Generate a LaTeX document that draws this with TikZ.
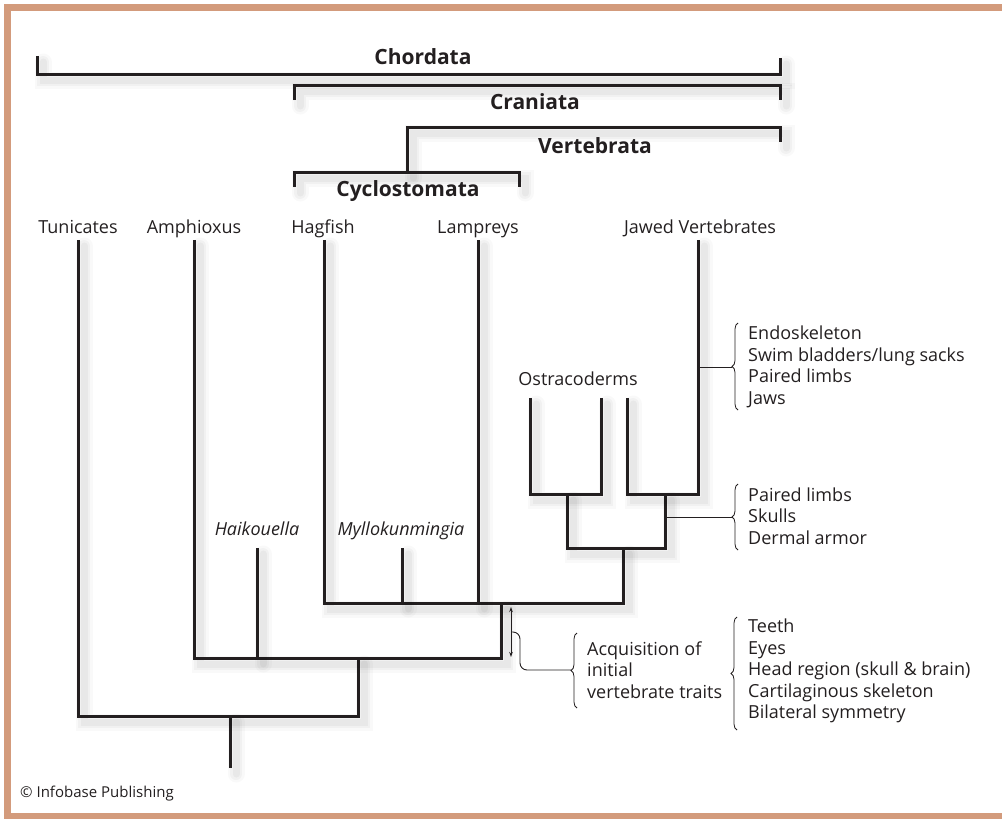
\documentclass[tikz,border=0pt]{standalone}
\usepackage{fontspec}
\setmainfont{Open Sans}
\usetikzlibrary{arrows.meta,positioning,decorations.pathreplacing}
\definecolor{framebrown}{RGB}{211,155,124}
\definecolor{inkline}{RGB}{35,31,32}

\begin{document}
\begin{tikzpicture}[x=1pt,y=-1pt]
	\tikzstyle{blurA}=[draw=black,opacity=0.025,line width=17pt,line cap=round,transform canvas={shift={(6pt,-6pt)}}]
	\tikzstyle{blurB}=[draw=black,opacity=0.03,line width=12pt,line cap=round,transform canvas={shift={(6pt,-6pt)}}]
	\tikzstyle{blurC}=[draw=black,opacity=0.04,line width=7pt,line cap=round,transform canvas={shift={(6pt,-6pt)}}]
	\tikzstyle{branch}=[draw=inkline,line width=3pt,preaction={blurA},preaction={blurB},preaction={blurC}]
	\tikzstyle{thinline}=[draw=inkline,line width=0.9pt]
	\tikzstyle{bracebar}=[draw=inkline,line width=0.8pt,decorate,decoration={brace,amplitude=6pt}]
	\tikzstyle{taxon}=[anchor=base,inner sep=0pt,text=inkline,font=\fontsize{18}{21.5}\selectfont]
	\tikzstyle{fossil}=[taxon,font=\fontsize{18}{21.5}\selectfont\itshape]
	\tikzstyle{group}=[anchor=base,inner sep=0pt,text=inkline,font=\fontsize{21}{25}\selectfont\bfseries]
	\tikzstyle{traits}=[anchor=west,align=left,inner sep=0pt,text=inkline,font=\fontsize{18}{21.5}\selectfont]

	\useasboundingbox (0,0) rectangle (1002,819);
	% frame
	\fill[framebrown] (4,4) rectangle (1002,11);
	\fill[framebrown] (4,4) rectangle (11,819);
	\fill[framebrown] (4,813) rectangle (1002,819);

	% tips
	\coordinate (tun) at (78,240);
	\coordinate (amph) at (194,240);
	\coordinate (hag) at (324,240);
	\coordinate (lamp) at (478,240);
	\coordinate (jaw) at (698,240);
	\coordinate (ost1) at (530,398);
	\coordinate (ost2) at (601,398);
	\coordinate (ost3) at (627,398);
	\coordinate (haik) at (257,548);
	\coordinate (myll) at (402,548);
	% inner nodes
	\coordinate (root) at (230,768);
	\coordinate (nA) at (230,716);
	\coordinate (nB) at (358,658);
	\coordinate (nC) at (501,603);
	\coordinate (nD) at (623,548);
	\coordinate (nE) at (567,494);
	\coordinate (nF) at (665,494);

	% tree
	\draw[branch] (nA) -- (root);
	\draw[branch] (tun) |- (nA) -| (nB);
	\draw[branch] (amph) |- (nB) -| (nC);
	\draw[branch] (haik) -- (haik |- nB);
	\draw[branch] (hag) |- (nC) -| (nD);
	\draw[branch] (myll) -- (myll |- nC);
	\draw[branch] (lamp) -- (lamp |- nC);
	\draw[branch] (nE) |- (nD) -| (nF);
	\draw[branch] (ost1) |- (nE) -| (ost2);
	\draw[branch] (ost3) |- (nF) -| (jaw);

	% clade brackets
	\coordinate (chL) at (37,56);
	\coordinate (chR) at (780,58);
	\coordinate (crL) at (294,100);
	\coordinate (crR) at (780,100);
	\coordinate (veR) at (780,142);
	\coordinate (veL) at (407,172);
	\coordinate (cyL) at (294,187);
	\coordinate (cyR) at (519,187);
	\draw[branch] (chL) |- ([yshift=-16pt]chR) -- (chR);
	\draw[branch] (crL) |- ([yshift=15pt]crR) -- (crR);
	\draw[branch] (veL) |- ([yshift=15pt]veR) -- (veR);
	\draw[branch] (cyL) |- ([yshift=15pt]cyR) -- (cyR);

	\node[group] (chordata) at (423,64) {Chordata};
	\node[group] (craniata) at (535,109) {Craniata};
	\node[group] (vertebrata) at (595,153) {Vertebrata};
	\node[group] (cyclo) at (408,196) {Cyclostomata};

	% taxa
	\node[taxon] (tunL) at (78,233) {Tunicates};
	\node[taxon] (amphL) at (194,233) {Amphioxus};
	\node[taxon] (hagL) at (323,233) {Hagfish};
	\node[taxon] (lampL) at (478,233) {Lampreys};
	\node[taxon] (jawL) at (700,233) {Jawed Vertebrates};
	\node[taxon] (ostL) at (578,385) {Ostracoderms};
	\node[fossil] (haikL) at (257,535) {Haikouella};
	\node[fossil] (myllL) at (401,535) {Myllokunmingia};

	% traits of jawed vertebrates
	\coordinate (trA) at (732,367);
	\draw[bracebar] (738,410) -- (738,323);
	\draw[thinline] (jaw |- trA) -- (trA);
	\node[traits] (jawTraits) at (748,367) {Endoskeleton\\Swim bladders/lung sacks\\Paired limbs\\Jaws};

	% traits of ostracoderms + jawed
	\coordinate (trB) at (732,517);
	\draw[bracebar] (738,550) -- (738,484);
	\draw[thinline] (nF |- trB) -- (trB);
	\node[traits] (armorTraits) at (748,516) {Paired limbs\\Skulls\\Dermal armor};

	% vertebrate traits
	\coordinate (arrT) at (511,607);
	\coordinate (arrB) at (511,657);
	\draw[thinline,{Stealth[length=5pt,width=3.5pt]}-{Stealth[length=5pt,width=3.5pt]}] (arrT) -- (arrB);
	\coordinate (trC) at (571,670);
	\draw[thinline,rounded corners=7pt] (512,632) -| (520,670) -- (trC);
	\draw[bracebar] (577,708) -- (577,633);
	\node[traits] (acq) at (587,670) {Acquisition of\\initial\\vertebrate traits};
	\draw[bracebar] (737,730) -- (737,617);
	\node[traits] (initTraits) at (748,671) {Teeth\\Eyes\\Head region (skull \& brain)\\Cartilaginous skeleton\\Bilateral symmetry};

	\node[anchor=base west,inner sep=0pt,text=inkline,font=\fontsize{15}{18}\selectfont] (credit) at (20,797) {© Infobase Publishing};
\end{tikzpicture}
\end{document}
